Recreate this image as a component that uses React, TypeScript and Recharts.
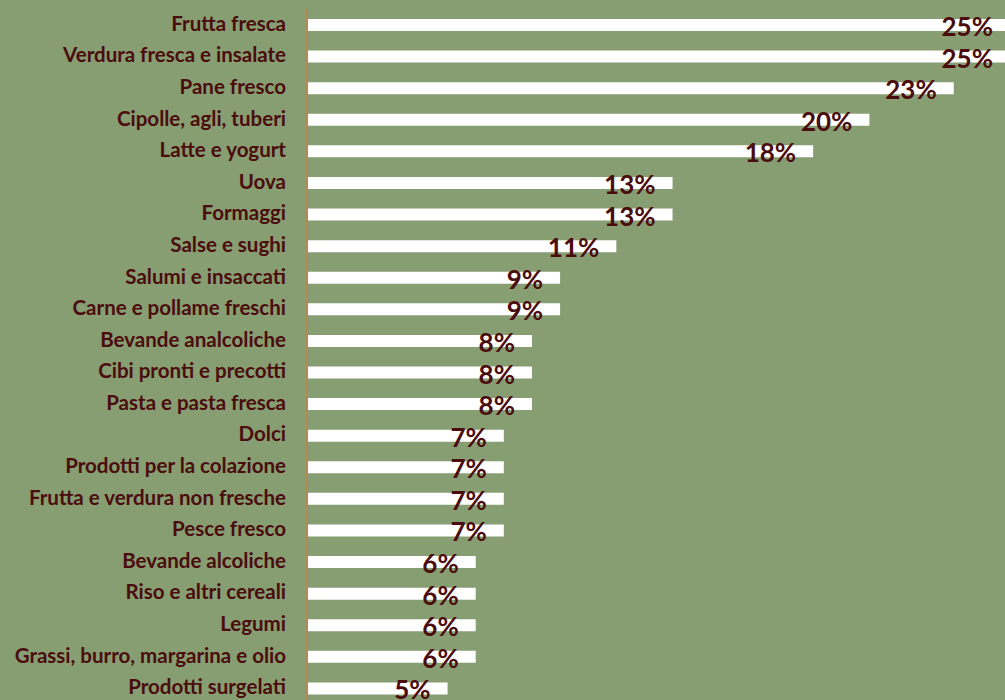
import { Bar, BarChart, LabelList, XAxis, YAxis } from "recharts";

const categories = [
  "Frutta fresca",
  "Verdura fresca e insalate",
  "Pane fresco",
  "Cipolle, agli, tuberi",
  "Latte e yogurt",
  "Uova",
  "Formaggi",
  "Salse e sughi",
  "Salumi e insaccati",
  "Carne e pollame freschi",
  "Bevande analcoliche",
  "Cibi pronti e precotti",
  "Pasta e pasta fresca",
  "Dolci",
  "Prodotti per la colazione",
  "Frutta e verdura non fresche",
  "Pesce fresco",
  "Bevande alcoliche",
  "Riso e altri cereali",
  "Legumi",
  "Grassi, burro, margarina e olio",
  "Prodotti surgelati",
];

const shares = [25, 25, 23, 20, 18, 13, 13, 11, 9, 9, 8, 8, 8, 7, 7, 7, 7, 6, 6, 6, 6, 5];

const BG = "#879d72";
const TEXT = "#4a0c0c";
const AXIS = "#b48a52";
const FONT = "Lato, 'Open Sans', sans-serif";

const rows = categories.map((name, i) => ({ name, value: shares[i] }));

function CategoryTick(props: any) {
  const { x, y, payload } = props;
  return (
    <text x={x} y={y + 6} textAnchor="end" fill={TEXT} fontFamily={FONT} fontWeight={700} fontSize={20.5}>
      {payload.value}
    </text>
  );
}

function ValueLabel(props: any) {
  const { x, y, width, height, value } = props;
  return (
    <text
      x={x + width - 17}
      y={y + height / 2 + 11}
      textAnchor="end"
      fill={TEXT}
      fontFamily={FONT}
      fontWeight={700}
      fontSize={26}
    >
      {value}%
    </text>
  );
}

export default function App() {
  return (
    <div style={{ position: "absolute", left: 0, top: 0, width: 1005, height: 700, overflow: "hidden", background: BG }}>
      <BarChart
        width={1010}
        height={704}
        data={rows}
        layout="vertical"
        margin={{ top: 9, right: 0, bottom: 0, left: 0 }}
        barCategoryGap={0}
      >
        <XAxis type="number" domain={[0, 25]} hide />
        <YAxis
          type="category"
          dataKey="name"
          width={307}
          axisLine={{ stroke: AXIS, strokeWidth: 2 }}
          tickLine={false}
          tickSize={0}
          tickMargin={21}
          interval={0}
          tick={<CategoryTick />}
        />
        <Bar dataKey="value" fill="#ffffff" barSize={12} isAnimationActive={false}>
          <LabelList dataKey="value" content={<ValueLabel />} />
        </Bar>
      </BarChart>
    </div>
  );
}
